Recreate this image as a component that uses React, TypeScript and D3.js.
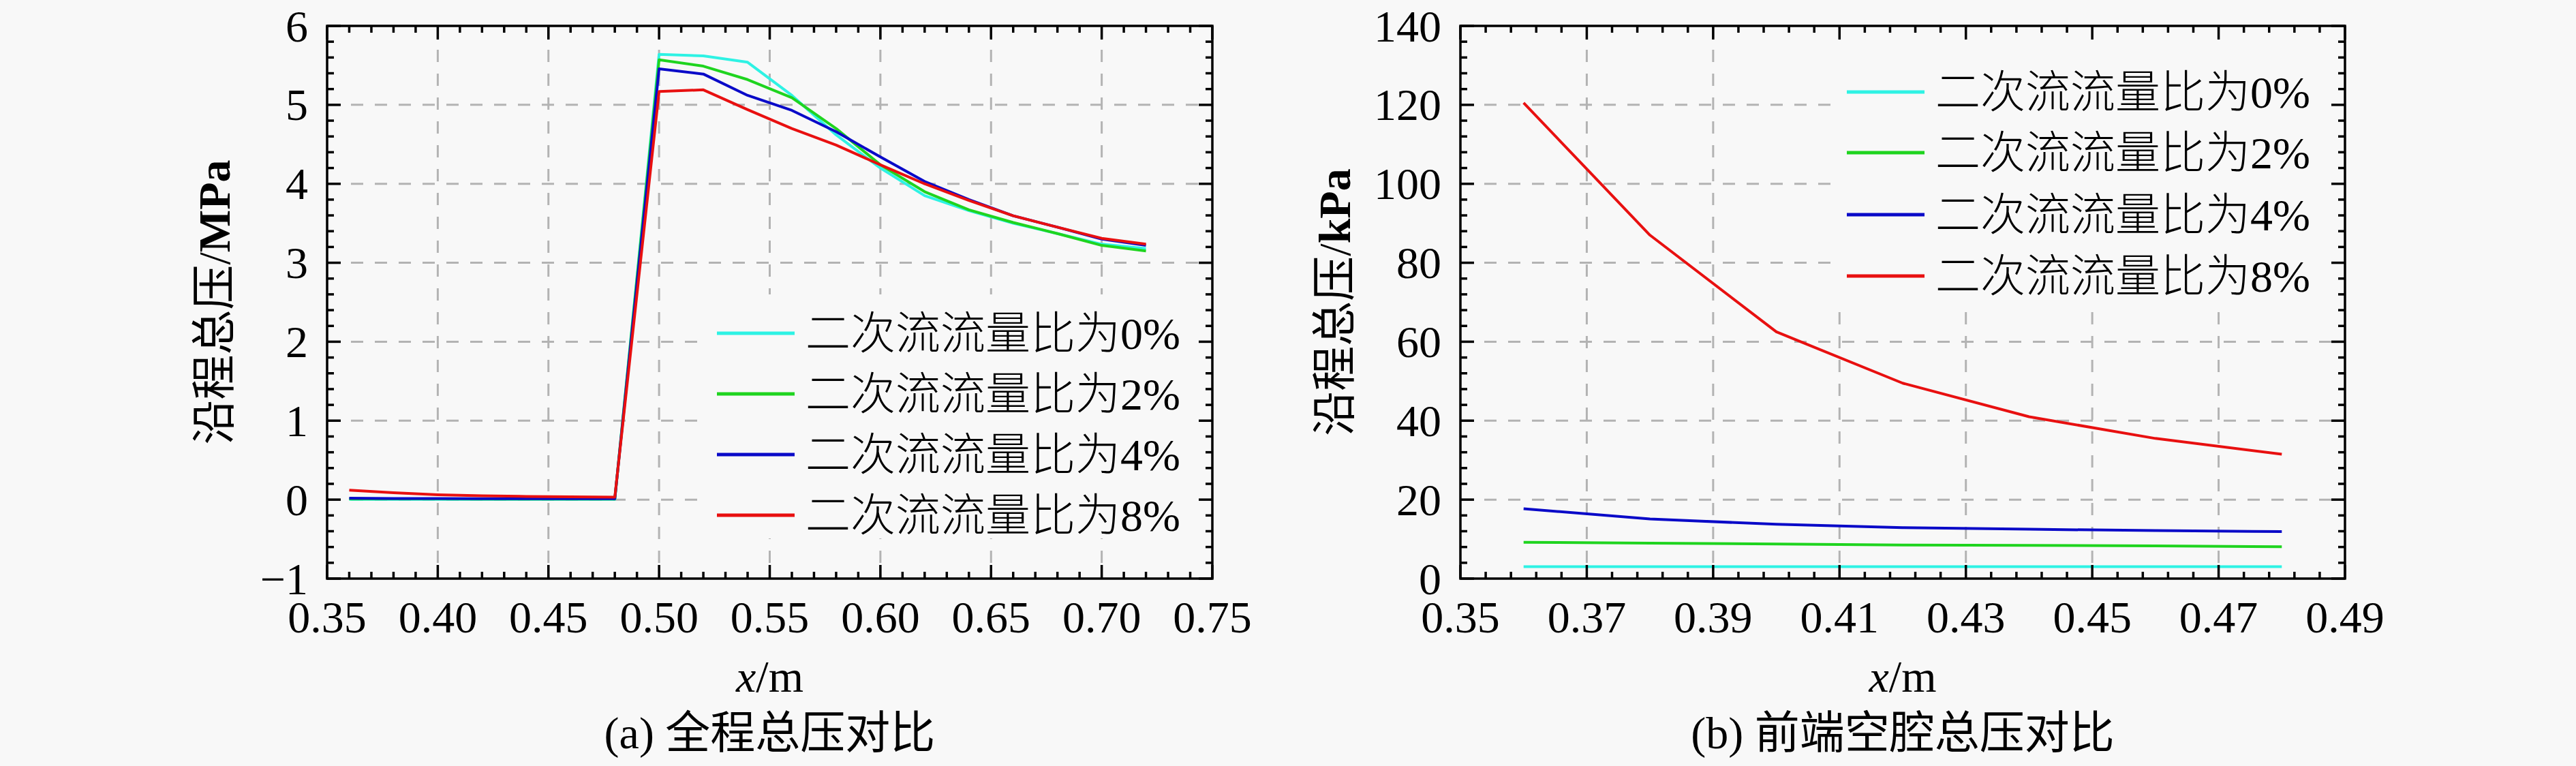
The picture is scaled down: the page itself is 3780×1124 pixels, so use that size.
import React from "react";
import * as d3 from "d3";

const W = 3780;
const H = 1124;
const BG = "#f8f8f8";
const FONT = "'Liberation Serif','Times New Roman','Noto Sans CJK SC',serif";

const legendLabels = ["二次流流量比为0%", "二次流流量比为2%", "二次流流量比为4%", "二次流流量比为8%"];
const lineColors = ["#2ef2e4", "#1fd41f", "#0a0ac8", "#e81010"];

// Panel (a): full-length total pressure, MPa
const xFull = [0.36, 0.38, 0.40, 0.42, 0.44, 0.46, 0.48, 0.50, 0.52, 0.54, 0.56, 0.58, 0.60, 0.62, 0.64, 0.66, 0.68, 0.70, 0.72];
const full0 = [0.003, 0.003, 0.003, 0.003, 0.003, 0.003, 0.003, 5.64, 5.62, 5.54, 5.12, 4.62, 4.20, 3.85, 3.66, 3.50, 3.37, 3.235, 3.18];
const full2 = [0.0095, 0.0092, 0.0088, 0.0085, 0.0084, 0.0083, 0.0081, 5.57, 5.49, 5.32, 5.09, 4.70, 4.24, 3.90, 3.67, 3.51, 3.37, 3.22, 3.15];
const full4 = [0.0177, 0.0151, 0.0138, 0.0129, 0.0125, 0.0122, 0.0119, 5.456, 5.39, 5.12, 4.93, 4.66, 4.34, 4.03, 3.80, 3.595, 3.45, 3.30, 3.22];
const full8 = [0.1205, 0.087, 0.0625, 0.0495, 0.041, 0.0355, 0.0315, 5.17, 5.19, 4.94, 4.70, 4.49, 4.24, 4.00, 3.79, 3.595, 3.45, 3.31, 3.235];

// Panel (b): front cavity total pressure, kPa
const xCav = [0.36, 0.38, 0.40, 0.42, 0.44, 0.46, 0.48];
const cav0 = [3.0, 3.0, 3.0, 3.0, 3.0, 3.0, 3.0];
const cav2 = [9.2, 8.98, 8.75, 8.5, 8.4, 8.3, 8.06];
const cav4 = [17.7, 15.1, 13.75, 12.9, 12.5, 12.15, 11.9];
const cav8 = [120.5, 87, 62.5, 49.5, 41, 35.5, 31.5];

const aXTicks = [0.35, 0.40, 0.45, 0.50, 0.55, 0.60, 0.65, 0.70, 0.75];
const aYTicks = [-1, 0, 1, 2, 3, 4, 5, 6];
const bXTicks = [0.35, 0.37, 0.39, 0.41, 0.43, 0.45, 0.47, 0.49];
const bYTicks = [0, 20, 40, 60, 80, 100, 120, 140];

type Box = { l: number; r: number; t: number; b: number };

function minorVals(a: number, b: number, step: number, majors: number[]) {
  const n = Math.round((b - a) / step);
  const out: number[] = [];
  for (let i = 0; i <= n; i++) {
    const v = a + i * step;
    if (!majors.some((m) => Math.abs(m - v) < step * 1e-3)) out.push(v);
  }
  return out;
}

function Panel(props: {
  box: Box;
  xDomain: [number, number];
  yDomain: [number, number];
  xTicks: number[];
  yTicks: number[];
  xMinorStep: number;
  yMinorStep: number;
  xFmt: (v: number) => string;
  yFmt: (v: number) => string;
  xs: number[];
  series: number[][];
  legend: { x: number; rows: number[]; bg: Box };
  unit: string;
  titleX: number;
  caption: string;
}) {
  const { box, xDomain, yDomain, xTicks, yTicks, xs, series, legend } = props;
  const x = d3.scaleLinear().domain(xDomain).range([box.l, box.r]);
  const y = d3.scaleLinear().domain(yDomain).range([box.b, box.t]);
  const line = d3
    .line<number>()
    .x((_, i) => x(xs[i]))
    .y((d) => y(d));
  const xMin = minorVals(xDomain[0], xDomain[1], props.xMinorStep, xTicks);
  const yMin = minorVals(yDomain[0], yDomain[1], props.yMinorStep, yTicks);
  const xGrid = xTicks.slice(1, -1);
  const yGrid = yTicks.slice(1, -1);
  const MJ = 20;
  const MN = 10;
  const tw = 3.5;
  const cx = (box.l + box.r) / 2;
  const cy = (box.t + box.b) / 2;
  return (
    <g>
      {/* grid */}
      <g stroke="#b3b3b3" strokeWidth={3} strokeDasharray="18 17" fill="none">
        {xGrid.map((v) => (
          <line key={"gx" + v} x1={x(v)} x2={x(v)} y1={box.t} y2={box.b} />
        ))}
        {yGrid.map((v) => (
          <line key={"gy" + v} x1={box.l} x2={box.r} y1={y(v)} y2={y(v)} />
        ))}
      </g>
      {/* legend background covers grid */}
      <rect
        x={legend.bg.l}
        y={legend.bg.t}
        width={legend.bg.r - legend.bg.l}
        height={legend.bg.b - legend.bg.t}
        fill={BG}
      />
      {/* data */}
      {series.map((s, i) => (
        <path
          key={"s" + i}
          d={line(s) || ""}
          fill="none"
          stroke={lineColors[i]}
          strokeWidth={4}
          strokeLinejoin="round"
        />
      ))}
      {/* frame */}
      <rect x={box.l} y={box.t} width={box.r - box.l} height={box.b - box.t} fill="none" stroke="#000" strokeWidth={tw} />
      {/* ticks */}
      <g stroke="#000" strokeWidth={tw}>
        {xTicks.map((v) => (
          <g key={"xt" + v}>
            <line x1={x(v)} x2={x(v)} y1={box.b} y2={box.b - MJ} />
            <line x1={x(v)} x2={x(v)} y1={box.t} y2={box.t + MJ} />
          </g>
        ))}
        {xMin.map((v) => (
          <g key={"xm" + v}>
            <line x1={x(v)} x2={x(v)} y1={box.b} y2={box.b - MN} />
            <line x1={x(v)} x2={x(v)} y1={box.t} y2={box.t + MN} />
          </g>
        ))}
        {yTicks.map((v) => (
          <g key={"yt" + v}>
            <line x1={box.l} x2={box.l + MJ} y1={y(v)} y2={y(v)} />
            <line x1={box.r} x2={box.r - MJ} y1={y(v)} y2={y(v)} />
          </g>
        ))}
        {yMin.map((v) => (
          <g key={"ym" + v}>
            <line x1={box.l} x2={box.l + MN} y1={y(v)} y2={y(v)} />
            <line x1={box.r} x2={box.r - MN} y1={y(v)} y2={y(v)} />
          </g>
        ))}
      </g>
      {/* tick labels */}
      <g fontFamily={FONT} fontSize={66} fill="#000">
        {xTicks.map((v) => (
          <text key={"xl" + v} x={x(v)} y={box.b + 79} textAnchor="middle">
            {props.xFmt(v)}
          </text>
        ))}
        {yTicks.map((v) => (
          <text key={"yl" + v} x={box.l - 28} y={y(v)} textAnchor="end" dominantBaseline="central">
            {props.yFmt(v)}
          </text>
        ))}
        {/* axis titles */}
        <text x={cx} y={1015} textAnchor="middle">
          <tspan fontStyle="italic">x</tspan>/m
        </text>
        <text
          x={props.titleX}
          y={cy}
          textAnchor="middle"
          dominantBaseline="central"
          transform={`rotate(-90 ${props.titleX} ${cy})`}
        >
          沿程总压/<tspan fontWeight="bold">{props.unit}</tspan>
        </text>
        <text x={cx} y={1098} textAnchor="middle">
          {props.caption}
        </text>
        {/* legend */}
        {legendLabels.map((lab, i) => (
          <g key={"lg" + i}>
            <line
              x1={legend.x}
              x2={legend.x + 114}
              y1={legend.rows[i]}
              y2={legend.rows[i]}
              stroke={lineColors[i]}
              strokeWidth={5}
            />
            <text x={legend.x + 130} y={legend.rows[i]} dominantBaseline="central" fontWeight={300}>
              {lab}
            </text>
          </g>
        ))}
      </g>
    </g>
  );
}

export default function App() {
  const f2 = d3.format(".2f");
  const fi = d3.format("d");
  return (
    <svg
      width={W}
      height={H}
      viewBox={`0 0 ${W} ${H}`}
      style={{ position: "fixed", left: 0, top: 0, display: "block" }}
    >
      <rect x={0} y={0} width={W} height={H} fill={BG} />
      <Panel
        box={{ l: 480, r: 1779, t: 38, b: 849 }}
        xDomain={[0.35, 0.75]}
        yDomain={[-1, 6]}
        xTicks={aXTicks}
        yTicks={aYTicks}
        xMinorStep={0.01}
        yMinorStep={0.2}
        xFmt={f2}
        yFmt={fi}
        xs={xFull}
        series={[full0, full2, full4, full8]}
        legend={{ x: 1052, rows: [489, 578, 667, 756], bg: { l: 1030, r: 1768, t: 432, b: 790 } }}
        unit="MPa"
        titleX={314}
        caption="(a) 全程总压对比"
      />
      <Panel
        box={{ l: 2143, r: 3441, t: 38, b: 849 }}
        xDomain={[0.35, 0.49]}
        yDomain={[0, 140]}
        xTicks={bXTicks}
        yTicks={bYTicks}
        xMinorStep={0.004}
        yMinorStep={4}
        xFmt={f2}
        yFmt={fi}
        xs={xCav}
        series={[cav0, cav2, cav4, cav8]}
        legend={{ x: 2710, rows: [135, 224, 315, 405], bg: { l: 2692, r: 3430, t: 42, b: 445 } }}
        unit="kPa"
        titleX={1958}
        caption="(b) 前端空腔总压对比"
      />
    </svg>
  );
}
